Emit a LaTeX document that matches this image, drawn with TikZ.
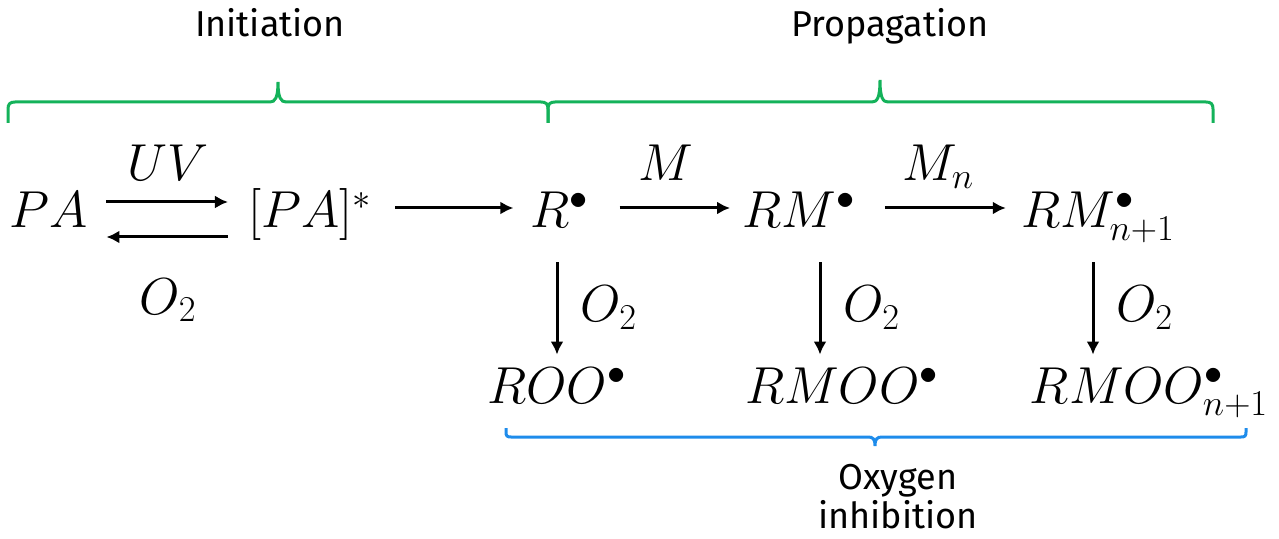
\documentclass[tikz,border=0pt]{standalone}
\usepackage{fix-cm}
\usepackage{fontspec}
\newfontfamily\stagefont{Fira Sans}
\usetikzlibrary{arrows.meta}
\definecolor{stagegreen}{RGB}{20,178,90}
\definecolor{inhibblue}{RGB}{30,140,235}
\tikzset{
  species/.style={anchor=base, inner xsep=0pt, inner ysep=0pt, text height=18pt, text depth=6pt, font=\fontsize{26}{30}\selectfont},
  cond/.style={inner sep=0pt, text depth=0pt, font=\fontsize{26}{30}\selectfont},
  stage/.style={anchor=base, inner sep=0pt, font=\stagefont\fontsize{18}{22}\selectfont},
  rxn/.style={line width=1.5pt, -{Latex[length=6.5pt,width=6.5pt]}},
  phasebrace/.style={line width=1.5pt, stagegreen},
  inhibbrace/.style={line width=1.5pt, inhibblue}
}
\begin{document}
\begin{tikzpicture}[x=0.5pt, y=-0.5pt]
  \useasboundingbox (0,0) rectangle (1279,539);

  % stages
  \node[stage] (init) at (270,37) {Initiation};
  \node[stage] (prop) at (890,37) {Propagation};
  \node[stage] (oxy) at (898,489) {Oxygen};
  \node[stage] (inhib) at (898,528) {inhibition};

  \draw[phasebrace] (8,123) -- (8,109) .. controls (8,104) and (10,102) .. (15,102)
    -- (270,102) .. controls (275,102) and (278,98) .. (278,82)
    .. controls (278,98) and (281,102) .. (286,102)
    -- (541,102) .. controls (546,102) and (548,104) .. (548,109) -- (548,123);
  \draw[phasebrace] (548,123) -- (548,109) .. controls (548,104) and (550,102) .. (555,102)
    -- (872,102) .. controls (877,102) and (880,98) .. (880,80)
    .. controls (880,98) and (883,102) .. (888,102)
    -- (1206,102) .. controls (1211,102) and (1213,104) .. (1213,109) -- (1213,123);
  \draw[inhibbrace] (506,428) -- (506,432) .. controls (506,436) and (507,437) .. (511,437)
    -- (868,437) .. controls (873,437) and (875,439) .. (875,446)
    .. controls (875,439) and (877,437) .. (882,437)
    -- (1241,437) .. controls (1245,437) and (1246,436) .. (1246,432) -- (1246,428);

  % species
  \node[species] (pa) at (49,228) {$PA$};
  \node[species] (pastar) at (310,228) {$[PA]^{*}$};
  \node[species] (r) at (560,228) {$R^{\bullet}$};
  \node[species] (rm) at (799,228) {$RM^{\bullet}$};
  \node[species] (rmn) at (1098,228) {$RM^{\bullet}_{n+1}$};
  \node[species] (roo) at (557,403) {$ROO^{\bullet}$};
  \node[species] (rmoo) at (842,403) {$RMOO^{\bullet}$};
  \node[species] (rmoon) at (1149,403) {$RMOO^{\bullet}_{n+1}$};

  % reactions
  \draw[rxn, shorten <=9pt, shorten >=10pt] ([yshift=7pt]pa.east) -- ([yshift=7pt]pastar.west)
    node[cond, midway, above=10pt] {$UV$};
  \draw[rxn, shorten <=10pt, shorten >=9pt] ([yshift=-10.5pt]pastar.west) -- ([yshift=-10.5pt]pa.east)
    node[cond, midway, below=20pt] {$O_2$};
  \draw[rxn, shorten <=11.5pt, shorten >=8.5pt] ([yshift=4pt]pastar.east) -- ([yshift=4pt]r.west);
  \draw[rxn, shorten <=15pt, shorten >=6pt] ([yshift=4pt]r.east) -- ([yshift=4pt]rm.west)
    node[cond, midway, above=13pt] {$M$};
  \draw[rxn, shorten <=14.5pt, shorten >=7.5pt] ([yshift=4pt]rm.east) -- ([yshift=4pt]rmn.west)
    node[cond, midway, above=13pt] {$M_n$};

  \draw[rxn, shorten <=11pt, shorten >=6pt] ([xshift=-1.5pt]r.south) -- (roo.north)
    node[cond, midway, right=11pt] {$O_2$};
  \draw[rxn, shorten <=11pt, shorten >=6pt] ([xshift=10.5pt]rm.south) -- ([xshift=-11pt]rmoo.north)
    node[cond, midway, right=11pt] {$O_2$};
  \draw[rxn, shorten <=11pt, shorten >=6pt] ([xshift=-2.5pt]rmn.south) -- ([xshift=-28pt]rmoon.north)
    node[cond, midway, right=11pt] {$O_2$};
\end{tikzpicture}
\end{document}
